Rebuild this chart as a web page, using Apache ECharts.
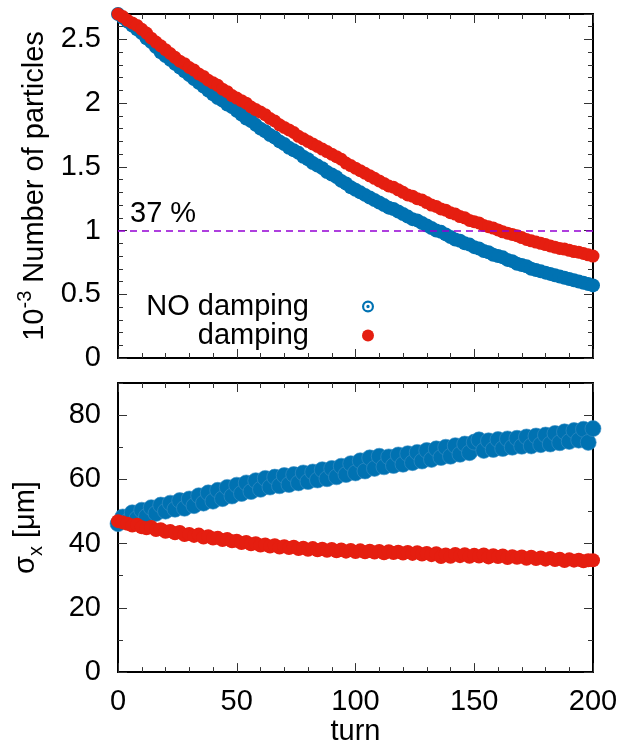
<!DOCTYPE html>
<html><head><meta charset="utf-8">
<script src="https://cdn.jsdelivr.net/npm/echarts@6/dist/echarts.min.js"></script>
<style>html,body{margin:0;padding:0;background:#fff}#c{width:643px;height:747px}</style>
</head><body><div id="c"></div>
<script>
const turns = [0,2,4,6,8,10,12,14,16,18,20,22,24,26,28,30,32,34,36,38,40,42,44,46,48,50,52,54,56,58,60,62,64,66,68,70,72,74,76,78,80,82,84,86,88,90,92,94,96,98,100,102,104,106,108,110,112,114,116,118,120,122,124,126,128,130,132,134,136,138,140,142,144,146,148,150,152,154,156,158,160,162,164,166,168,170,172,174,176,178,180,182,184,186,188,190,192,194,196,198,200];

const particlesNoDamping = [2.70,2.67,2.64,2.61,2.58,2.55,
 2.51,2.48,2.44,2.40,2.37, 2.34,2.31,2.28,2.25,2.22, 2.19,2.16,2.13,2.10,2.07,
 2.04,2.02,1.99,1.97,1.94, 1.91,1.88,1.86,1.83,1.80, 1.78,1.75,1.73,1.70,1.68,
 1.65,1.63,1.61,1.58,1.56, 1.53,1.51,1.49,1.46,1.44, 1.42,1.39,1.37,1.34,1.32,
 1.30,1.28,1.26,1.24,1.22, 1.20,1.18,1.17,1.15,1.13, 1.11,1.09,1.08,1.06,1.04,
 1.02,1.00,0.99,0.97,0.95, 0.93,0.92,0.90,0.89,0.87, 0.86,0.84,0.83,0.81,0.80,
 0.79,0.77,0.76,0.74,0.73, 0.72,0.70,0.69,0.68,0.67, 0.66,0.65,0.64,0.63,0.62,
 0.61,0.60,0.59,0.58,0.57];

const particlesDamping = [2.70,2.68,2.65,2.63,2.61,2.58,
 2.55,2.51,2.48,2.45,2.42, 2.39,2.36,2.33,2.31,2.28, 2.26,2.23,2.21,2.18,2.16,
 2.14,2.11,2.09,2.06,2.04, 2.02,2.00,1.97,1.95,1.93, 1.91,1.88,1.86,1.83,1.81,
 1.79,1.77,1.74,1.72,1.70, 1.68,1.66,1.64,1.62,1.60, 1.58,1.56,1.53,1.51,1.49,
 1.47,1.45,1.43,1.41,1.39, 1.37,1.35,1.34,1.32,1.30, 1.28,1.27,1.25,1.24,1.22,
 1.20,1.19,1.17,1.16,1.14, 1.13,1.11,1.10,1.08,1.07, 1.06,1.04,1.03,1.02,1.005,
 0.99,0.98,0.97,0.96,0.945, 0.93,0.92,0.91,0.90,0.89, 0.88,0.87,0.86,0.855,0.845,
 0.835,0.83,0.82,0.81,0.80];

const sigmaNoDamping = [46.2,48.3,46.9,49.6,47.8,50.4,
 48.5,51.2,49.4,52.0,50.1, 52.6,50.7,53.4,51.0,53.9, 51.8,54.9,52.6,55.8,53.2,
 56.6,54.0,57.5,54.8,58.2, 55.6,58.9,56.2,59.6,56.9, 60.3,57.6,60.7,58.0,61.2,
 58.4,61.5,58.9,62.0,59.3, 62.3,59.8,63.0,60.2,63.4, 60.8,64.1,61.5,64.9,62.0,
 65.8,62.6,66.7,63.4,67.2, 63.9,67.0,64.3,67.6,64.7, 68.0,65.2,68.4,65.7,69.0,
 66.2,69.5,66.8,70.0,67.2, 70.5,67.8,71.0,68.3,71.6, 72.3,69.0,72.0,69.3,72.4,
 69.6,72.6,70.0,72.8,70.3, 73.2,70.4,73.5,70.8,73.8, 71.0,74.3,71.4,74.8,71.8,
 75.2,72.2,75.6,71.5,75.8];

const sigmaDamping = [47.0,46.6,46.2,45.6,45.9,45.1,
 44.8,45.2,44.2,44.5,43.7, 43.9,43.2,43.6,42.7,43.0, 42.4,42.8,41.9,42.3,41.6,
 41.8,41.1,41.4,40.7,40.9, 40.2,40.5,39.8,40.1,39.4, 39.7,39.1,39.5,38.8,39.2,
 38.6,39.0,38.3,38.7,38.1, 38.6,37.9,38.4,37.8,38.3, 37.6,38.2,37.5,38.0,37.4,
 37.9,37.3,37.8,37.2,37.7, 37.0,37.6,37.1,37.5,36.9, 37.4,36.8,37.3,36.6,37.1,
 36.4,37.0,35.8,36.6,35.9, 36.8,36.1,36.7,35.9,36.5, 36.0,36.6,35.7,36.4,35.8,
 36.3,35.5,36.1,35.6,36.0, 35.3,35.9,35.2,35.7,35.0, 35.5,34.9,35.3,34.6,35.1,
 34.7,35.0,34.5,34.8,34.8];

const xTicks = [0, 50, 100, 150, 200];
const seriesNames = ['NO damping', 'damping'];
const thresholdLevel = 1;
const thresholdLabel = '37 %';

const FONT = 'Liberation Sans, Arial, Helvetica, sans-serif';
const FS = 29;
const BLUE = '#0072B2', RED = '#E51E10';
const RING = 'path://M0,-10A10,10,0,1,1,0,10A10,10,0,1,1,0,-10ZM0,-6.4A6.4,6.4,0,1,0,0,6.4A6.4,6.4,0,1,0,0,-6.4ZM0,-2.8A2.8,2.8,0,1,1,0,2.8A2.8,2.8,0,1,1,0,-2.8Z';

function pairs(vals){ return turns.map((t,i)=>[t, vals[i]]); }

const lineBlack = {show:true, onZero:false, lineStyle:{color:'#000', width:2}};
function xAx(grid, pos, labels, name){
  return {type:'value', gridIndex:grid, position:pos, min:xTicks[0], max:xTicks[xTicks.length-1], interval:50,
    axisLine:lineBlack, splitLine:{show:false},
    axisTick:{show:true, inside:true, length:9, lineStyle:{color:'#333', width:1}},
    minorTick:{show:true, splitNumber:5, length:5, lineStyle:{color:'#333', width:1}},
    axisLabel:{show:labels, color:'#000', fontSize:FS, fontFamily:FONT, margin:15},
    name: name||'', nameLocation:'middle', nameGap:44,
    nameTextStyle:{color:'#000', fontSize:FS, fontFamily:FONT}};
}
function yAx(grid, pos, max, interval, len, labelOpts, nameOpts){
  const a = {type:'value', gridIndex:grid, position:pos, min:0, max:max, interval:interval,
    axisLine:lineBlack, splitLine:{show:false},
    axisTick:{show:true, inside:true, length:len, lineStyle:{color:'#333', width:1}},
    axisLabel: labelOpts ? Object.assign({show:true, color:'#000', fontSize:FS, fontFamily:FONT, margin:17, showMaxLabel:false}, labelOpts) : {show:false}};
  if (nameOpts) Object.assign(a, nameOpts);
  return a;
}

const chart = echarts.init(document.getElementById('c'), null, {renderer:'canvas'});
chart.setOption({
  animation:false,
  backgroundColor:'#fff',
  textStyle:{fontFamily:FONT},
  grid:[
    {left:118, right:50, top:14, height:344},
    {left:118, right:50, top:383, height:293}
  ],
  legend:[
    {data:[{name:seriesNames[0], icon:RING}], right:264, top:287, align:'right', orient:'vertical', itemWidth:12, itemHeight:12,
     textStyle:{fontSize:FS, fontFamily:FONT, color:'#000', padding:[0,48,0,0]}},
    {data:[{name:seriesNames[1], icon:'circle'}], right:264, top:316, align:'right', orient:'vertical', itemWidth:12, itemHeight:12,
     textStyle:{fontSize:FS, fontFamily:FONT, color:'#000', padding:[0,48,0,0]}}
  ],
  xAxis:[
    xAx(0,'bottom',false), xAx(0,'top',false),
    xAx(1,'bottom',true,'turn'), xAx(1,'top',false)
  ],
  yAxis:[
    yAx(0,'left',2.7,0.5,9,{}, {name:'{a|10}{b|-3}{a| Number of particles}', nameLocation:'middle', nameGap:66,
        nameTextStyle:{color:'#000', fontFamily:FONT, rich:{a:{fontSize:FS, fontFamily:FONT, color:'#000', lineHeight:34, verticalAlign:'bottom'}, b:{fontSize:20, fontFamily:FONT, color:'#000', lineHeight:34, verticalAlign:'top'}}}}),
    yAx(0,'left',2.7,0.1,5,null),
    yAx(0,'right',2.7,0.5,9,null),
    yAx(0,'right',2.7,0.1,5,null),
    yAx(1,'left',90,20,9,{}, {name:'σ{s|x} [μm]', nameLocation:'middle', nameGap:72,
        nameTextStyle:{color:'#000', fontFamily:FONT, fontSize:FS, rich:{s:{fontSize:20, fontFamily:FONT, color:'#000', verticalAlign:'bottom', lineHeight:40}}}}),
    yAx(1,'left',90,10,5,null),
    yAx(1,'right',90,20,9,null),
    yAx(1,'right',90,10,5,null)
  ],
  series:[
    {name:seriesNames[0], type:'scatter', xAxisIndex:0, yAxisIndex:0, data:pairs(particlesNoDamping),
     symbol:'circle', symbolSize:14, itemStyle:{color:BLUE, opacity:1},
     markLine:{silent:true, symbol:'none', data:[{yAxis:thresholdLevel}],
       lineStyle:{color:'#9400D3', type:[7,5], width:1.5},
       label:{show:true, formatter:thresholdLabel, position:'insideStartTop', distance:[12,2], color:'#000', fontSize:FS, fontFamily:FONT}}},
    {name:seriesNames[1], type:'scatter', xAxisIndex:0, yAxisIndex:0, data:pairs(particlesDamping),
     symbol:'circle', symbolSize:13, itemStyle:{color:RED, opacity:1}},
    {name:seriesNames[0], type:'scatter', xAxisIndex:2, yAxisIndex:4, data:pairs(sigmaNoDamping),
     symbol:'circle', symbolSize:16, itemStyle:{color:BLUE, opacity:1, borderColor:'#3a8fc4', borderWidth:0.6}},
    {name:seriesNames[1], type:'scatter', xAxisIndex:2, yAxisIndex:4, data:pairs(sigmaDamping),
     symbol:'circle', symbolSize:14, itemStyle:{color:RED, opacity:1}}
  ]
});
</script></body></html>
